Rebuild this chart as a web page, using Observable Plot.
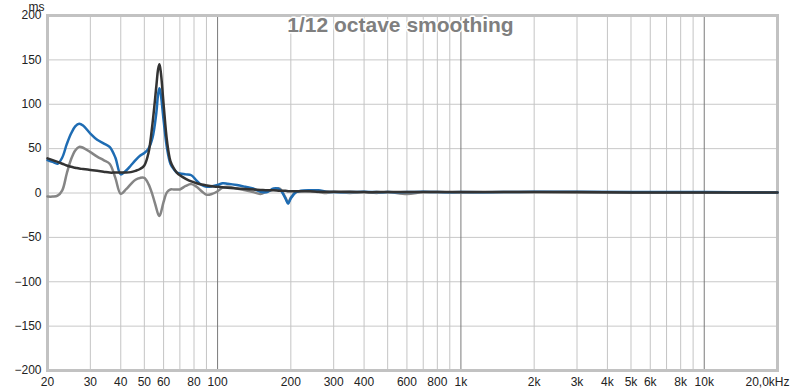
<!DOCTYPE html>
<html>
<head>
<meta charset="utf-8">
<script src="https://cdn.jsdelivr.net/npm/d3@7"></script>
<script src="https://cdn.jsdelivr.net/npm/@observablehq/plot@0.6"></script>
<style>
  html, body { margin: 0; padding: 0; background: #ffffff; }
  #chart { width: 800px; height: 390px; }
</style>
</head>
<body>
<div id="chart"></div>
<script>
const freqs = [20,21,22,23,24,25,26,27,28,30,32,34,36,38,40,42,44,46,48,50,52,54,56,57,57.7,58.5,60,62,64,66,68,70,74,78,82,86,90,95,100,105,110,120,130,140,150,160,170,180,190,195,200,210,220,240,260,280,300,350,400,450,500,600,700,800,1000,1500,2000,3000,5000,10000,20000];

const blueValues = [37,35,33,40,55,67,75,78,76,67,60,56,52,40,21,25,31,37,42,45,50,62,90,112,118,110,82,50,33,27,23,22,21,20,14,9,7,7.5,9,11,10.5,9,7,5,1.5,1,5,4,-6,-12,-6,1,2.5,3,3,1.5,1,1,1.5,1,1,1,1.5,1,1,1,1.5,1.5,1,1,0.5];

const grayValues = [-4,-4,-3,3,22,38,48,52,51,46,41,37,33,17,-1,4,10,15,17,17,10,-2,-17,-24,-26,-22,-10,1,4,4,4,4,8,10,7,2,-2,-1,2,6,7,5,3,1,-1,2,4,5,-5,-11,-5,1,2,2,1,0,1,0,1,0,1,-1,1,1,0.5,1,1,0.5,0.5,0.5,0.5];

const darkValues = [39,37,35,33,31,29.5,28.5,27.5,27,26,25,24,23,23,23,23,23.5,25,27,31,45,78,120,140,145,135,100,58,36,28,23,20,16,13,11,9.5,8.5,7.5,7,6.5,6,5,4.5,4,3.5,3,3,2.5,2.5,2,2,2,2,2,1.5,1.5,1.5,1.5,1,1,1,1,1,1,1,1,1,1,0.5,0.5,0.5];

const yTicks = [-200,-150,-100,-50,0,50,100,150,200];
const minorGrid = [20,30,40,50,60,70,80,90,200,300,400,500,600,700,800,900,2000,3000,4000,5000,6000,7000,8000,9000,20000];
const decadeGrid = [100,1000,10000];
const xLabelTicks = [20,30,40,50,60,80,100,200,300,400,600,800,1000,2000,3000,4000,5000,6000,8000,10000];
const lastTick = [20000];
const lastTickLabel = "20,0kHz";
const yUnit = "ms";
const title = "1/12 octave smoothing";

const mk = (vals) => freqs.map((f, i) => ({f, v: vals[i]}));
const blue = mk(blueValues), gray = mk(grayValues), dark = mk(darkValues);

const fmt = d => d >= 1000 ? (d / 1000) + "k" : String(d);

const chart = Plot.plot({
  width: 800,
  height: 390,
  marginLeft: 47,
  marginRight: 23,
  marginTop: 15,
  marginBottom: 20,
  style: {fontFamily: "'Liberation Sans', Arial, sans-serif", fontSize: "12px", background: "#ffffff", color: "#222"},
  x: {type: "log", domain: [20, 20000], axis: null},
  y: {domain: [-200, 200], axis: null},
  marks: [
    Plot.gridY(yTicks, {stroke: "#c8c8c8", strokeOpacity: 1}),
    Plot.gridX(minorGrid, {stroke: "#c4c4c4", strokeOpacity: 1}),
    Plot.gridX(decadeGrid, {stroke: "#7a7a7a", strokeOpacity: 1}),
    Plot.frame({stroke: "#c2c2c2", strokeWidth: 3}),
    Plot.line(gray, {x: "f", y: "v", stroke: "#858585", strokeWidth: 2.5, curve: "catmull-rom"}),
    Plot.line(blue, {x: "f", y: "v", stroke: "#1e6cb3", strokeWidth: 2.5, curve: "catmull-rom"}),
    Plot.line(dark, {x: "f", y: "v", stroke: "#333333", strokeWidth: 2.5, curve: "catmull-rom"}),
    Plot.text([title], {frameAnchor: "top", lineAnchor: "top", dx: -12, dy: 2, fontSize: 21, fontWeight: "bold", fill: "#7f7f7f", stroke: "#ffffff", strokeWidth: 3}),
    Plot.axisY(yTicks, {tickSize: 0, tickPadding: 6, label: null, fontSize: 12}),
    Plot.text(xLabelTicks, {x: d => d, frameAnchor: "bottom", lineAnchor: "top", dy: 7, text: fmt, fontSize: 12, fill: "#222"}),
    Plot.text(lastTick, {x: d => d, frameAnchor: "bottom", lineAnchor: "top", dy: 7, dx: -10, text: () => lastTickLabel, fontSize: 12, fill: "#222"}),
    Plot.text([yUnit], {frameAnchor: "top-left", lineAnchor: "middle", dx: -19, dy: -8, fontSize: 12, fill: "#222"})
  ]
});
document.getElementById("chart").appendChild(chart);
</script>
</body>
</html>
